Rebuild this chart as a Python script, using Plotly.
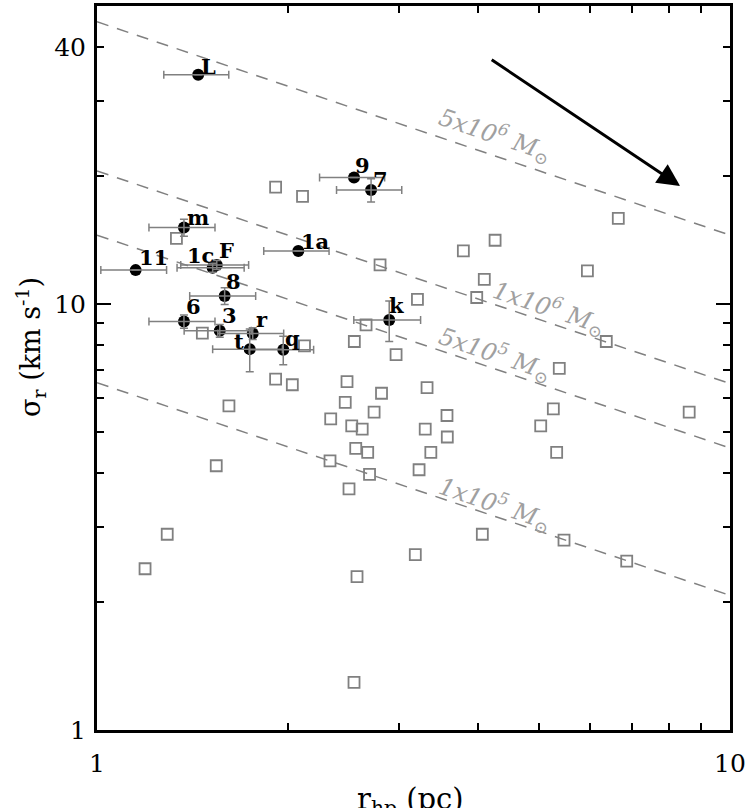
import numpy as np
import plotly.graph_objects as go

# filled points: clusters with measured dispersion
names = ["L", "9", "7", "m", "1a", "11", "1c", "F", "8", "6", "3", "r", "t", "q", "k"]
r_hp = [1.445, 2.547, 2.71, 1.372, 2.080, 1.151, 1.523, 1.546, 1.591, 1.372, 1.563, 1.762, 1.743, 1.969, 2.895]
sigma = [34.5, 19.8, 18.5, 15.1, 13.3, 12.0, 12.16, 12.34, 10.44, 9.09, 8.65, 8.52, 7.83, 7.80, 9.16]
r_err = [0.17, 0.30, 0.32, 0.164, 0.246, 0.137, 0.185, 0.19, 0.19, 0.164, 0.19, 0.21, 0.22, 0.23, 0.35]
sigma_err = [0, 0, 1.15, 0.7, 0, 0, 0.3, 0.3, 0.47, 0.33, 0.3, 0.27, 0.9, 0.6, 1.0]

# open squares: comparison sample
comp_r = [1.915, 2.112, 1.335, 2.800, 3.208, 1.467, 2.127, 2.661, 2.550, 2.968,
          3.791, 4.255, 4.091, 3.980, 6.661, 5.953, 6.376, 5.374, 8.620, 2.483,
          2.815, 3.322, 3.572, 5.259, 5.023, 2.467, 2.740, 2.340, 2.526, 2.624,
          3.300, 3.576, 3.368, 5.323, 2.563, 2.677, 2.334, 3.227, 2.695, 1.915,
          2.035, 1.616, 2.501, 1.543, 1.291, 1.191, 3.183, 2.575, 2.547, 4.062,
          5.467, 6.868]
comp_sigma = [18.79, 17.88, 14.25, 12.34, 10.24, 8.54, 7.97, 8.93, 8.16, 7.60,
              13.31, 14.10, 11.42, 10.35, 15.87, 11.95, 8.16, 7.06, 5.57, 6.57,
              6.17, 6.36, 5.47, 5.67, 5.17, 5.87, 5.57, 5.37, 5.17, 5.08,
              5.08, 4.87, 4.48, 4.48, 4.58, 4.48, 4.28, 4.08, 3.98, 6.66,
              6.46, 5.76, 3.68, 4.17, 2.88, 2.39, 2.58, 2.29, 1.293, 2.88,
              2.79, 2.49]

# constant mass lines, sigma read at r = 1 and r = 10 pc
mass_text = ["5x10<sup>6</sup>", "1x10<sup>6</sup>", "5x10<sup>5</sup>", "1x10<sup>5</sup>"]
line_r = [1, 10]
line_sigma = [[45.9, 14.5], [20.5, 6.5], [14.5, 4.59], [6.53, 2.07]]

# where the line labels sit (r, sigma)
mass_label_pos = [(4.255, 24.97), (5.18, 9.80), (4.255, 7.66), (4.255, 3.40)]
# pixel offsets of point labels
label_shift = {"L": (10, 8), "9": (8, 12), "7": (9, 11), "m": (14, 10), "1a": (17, 10),
               "11": (18, 13), "1c": (-12, 12), "F": (10, 14), "8": (9, 14), "6": (10, 15),
               "3": (10, 15), "r": (9, 14), "t": (-11, 8), "q": (9, 11), "k": (7, 15)}

GRAY = "#808080"
SERIF = "DejaVu Serif"

fig = go.Figure()

for s in line_sigma:
    fig.add_trace(go.Scatter(x=line_r, y=s, mode="lines",
                             line=dict(color=GRAY, width=1.5, dash="12px,9px"),
                             showlegend=False, hoverinfo="skip"))

fig.add_trace(go.Scatter(x=comp_r, y=comp_sigma, mode="markers",
                         marker=dict(symbol="square-open", size=11, color=GRAY,
                                     line=dict(width=1.8, color=GRAY)),
                         showlegend=False))

fig.add_trace(go.Scatter(x=r_hp, y=sigma, mode="markers",
                         marker=dict(symbol="circle", size=12, color="black"),
                         showlegend=False))

# error bars drawn over the dots, like the original
fig.add_trace(go.Scatter(x=r_hp, y=sigma, mode="markers",
                         marker=dict(size=1, color="rgba(0,0,0,0)"),
                         error_x=dict(type="data", array=r_err, color=GRAY, thickness=1.5, width=4),
                         error_y=dict(type="data", array=sigma_err, color=GRAY, thickness=1.5, width=4),
                         showlegend=False))

fig.add_trace(go.Scatter(x=[], y=[], yaxis="y2", showlegend=False))

for n, xv, yv in zip(names, r_hp, sigma):
    dx, dy = label_shift[n]
    fig.add_annotation(x=np.log10(xv), y=np.log10(yv), text="<b>%s</b>" % n,
                       showarrow=False, xshift=dx, yshift=dy,
                       font=dict(family=SERIF, size=21, color="black"))

for txt, (xv, yv) in zip(mass_text, mass_label_pos):
    fig.add_annotation(x=np.log10(xv), y=np.log10(yv),
                       text="<i>%s M<sub>⊙</sub></i>" % txt,
                       showarrow=False, textangle=18.6,
                       font=dict(family=SERIF, size=24, color="#a0a0a0"))

# arrow
fig.add_annotation(x=np.log10(8.34), y=np.log10(18.9), ax=np.log10(4.18), ay=np.log10(37.6),
                   xref="x", yref="y", axref="x", ayref="y", text="",
                   showarrow=True, arrowhead=2, arrowsize=1.5, arrowwidth=3, arrowcolor="black")

# axis titles placed by hand (x title runs off the bottom in the original)
fig.add_annotation(xref="paper", yref="paper", x=-0.106, y=0.529, textangle=-90,
                   xanchor="center", yanchor="middle",
                   text="σ<sub>r</sub> (km s<sup>-1</sup>)", showarrow=False,
                   font=dict(family=SERIF, size=27, color="black"))
fig.add_annotation(xref="paper", yref="paper", x=0.496, y=-0.098,
                   xanchor="center", yanchor="middle",
                   text="r<sub>hp</sub> (pc)", showarrow=False,
                   font=dict(family=SERIF, size=29, color="black"))

fig.update_layout(
    width=750, height=808,
    margin=dict(l=97, r=20, t=6, b=78),
    plot_bgcolor="white", paper_bgcolor="white",
    font=dict(family=SERIF, size=25, color="black"),
    xaxis=dict(type="log", range=[0, 1], tickvals=[1, 10], ticktext=["1", "10"],
               ticks="inside", ticklen=14, tickwidth=2, tickcolor="black",
               minor=dict(tickvals=[2, 3, 4, 5, 6, 7, 8, 9], ticks="inside", ticklen=7,
                          tickwidth=2, tickcolor="black"),
               showline=True, linewidth=3, linecolor="black", mirror="ticks",
               showgrid=False, zeroline=False, ticklabelstandoff=9, automargin=False),
    yaxis=dict(type="log", range=[0, np.log10(50)], tickvals=[1, 10, 40], ticktext=["1", "10", "40"],
               ticks="inside", ticklen=7, tickwidth=2, tickcolor="black",
               minor=dict(tickvals=[2, 3, 4, 5, 6, 7, 8, 9, 20, 30], ticks="inside", ticklen=7,
                          tickwidth=2, tickcolor="black"),
               showline=True, linewidth=3, linecolor="black", mirror="ticks",
               showgrid=False, zeroline=False, ticklabelstandoff=3, automargin=False),
    yaxis2=dict(type="log", range=[0, np.log10(50)], overlaying="y", side="left", anchor="x",
                tickvals=[10], ticks="inside", ticklen=14, tickwidth=2, tickcolor="black",
                showticklabels=False, showgrid=False, zeroline=False, showline=False,
                mirror="ticks", automargin=False),
)

fig.write_html("out.html", config={"displayModeBar": False},
               post_script="document.body.style.margin='0';")
